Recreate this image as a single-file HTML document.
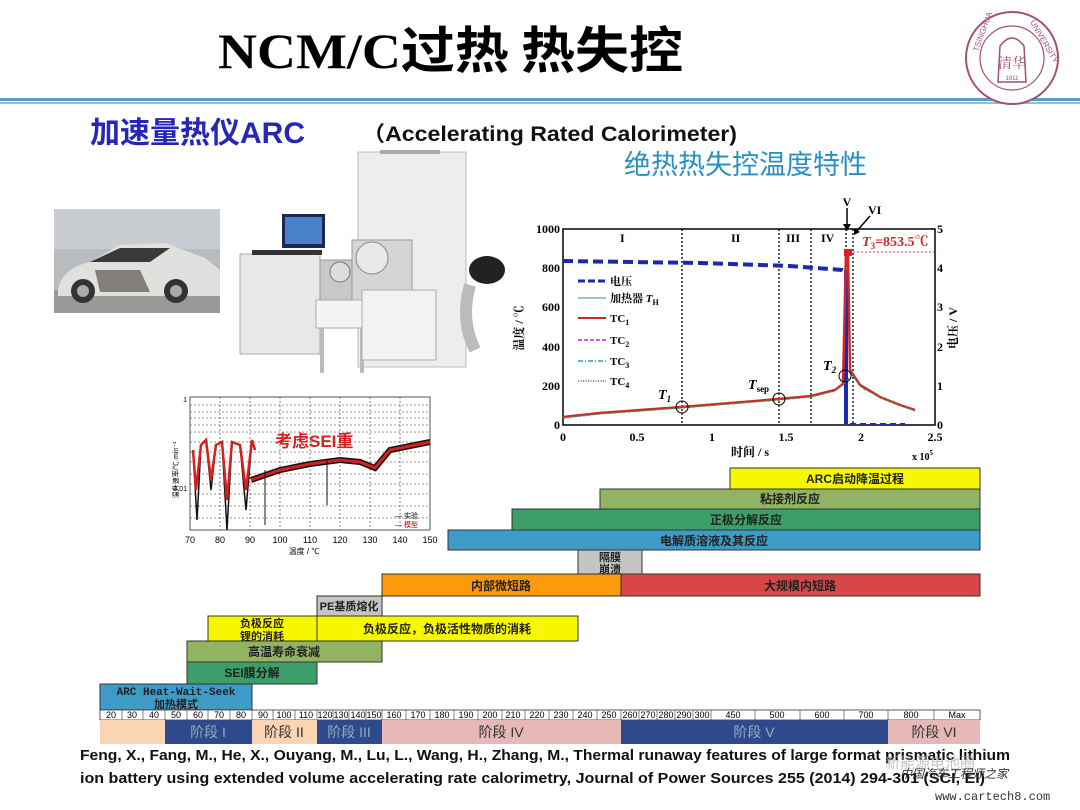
<!DOCTYPE html>
<html><head><meta charset="utf-8"><style>
html,body{margin:0;padding:0;background:#fff;}
svg{display:block;}
text{font-family:"Liberation Sans","Noto Sans CJK SC",sans-serif;}
.s,.s text{font-family:"Liberation Serif","Noto Serif CJK SC",serif;font-weight:bold;}
.bl{font-family:"Liberation Sans","Noto Sans CJK SC",sans-serif;font-weight:bold;font-size:12px;text-anchor:middle;}
.tk{font-size:9px;text-anchor:middle;font-family:"Liberation Sans",sans-serif;}
.st{font-size:14px;text-anchor:middle;font-family:"Liberation Sans","Noto Sans CJK SC",sans-serif;}
.cjk{font-family:"Noto Sans CJK SC",sans-serif;}
.serif{font-family:"Liberation Serif","Noto Serif CJK SC",serif;}
.mono{font-family:"Liberation Mono",monospace;}
</style></head><body>
<svg width="1080" height="810" viewBox="0 0 1080 810" xmlns="http://www.w3.org/2000/svg">
<rect width="1080" height="810" fill="#fff"/>
<text x="218" y="68" font-size="50" font-weight="bold" class="serif" textLength="465" lengthAdjust="spacingAndGlyphs">NCM/C<tspan class="cjk">过热 热失控</tspan></text>
<rect x="0" y="98" width="1080" height="3" fill="#5aa0c0"/>
<rect x="0" y="102" width="1080" height="2" fill="#8ec0d8"/>
<circle cx="1012" cy="58" r="46" fill="#fff" stroke="#a0507a" stroke-width="2"/>
<circle cx="1012" cy="58" r="32" fill="none" stroke="#a0507a" stroke-width="1.2"/>
<path d="M998 82 L1000 46 Q1012 30 1024 46 L1026 82 Z" fill="none" stroke="#a0507a" stroke-width="1.5"/>
<text x="1012" y="68" font-size="14" fill="#a0507a" text-anchor="middle" class="serif">清华</text>
<text x="1012" y="80" font-size="6" fill="#a0507a" text-anchor="middle">1911</text>
<text x="978" y="52" font-size="8" fill="#a0507a" transform="rotate(-70 978 52)">TSINGHUA</text>
<text x="1030" y="22" font-size="8" fill="#a0507a" transform="rotate(60 1030 22)">UNIVERSITY</text>
<text x="90" y="143" font-size="30" font-weight="bold" fill="#2626b8">加速量热仪ARC</text>
<text x="362" y="141" font-size="21" font-weight="bold" fill="#111" textLength="375" lengthAdjust="spacingAndGlyphs">（Accelerating Rated Calorimeter)</text>
<text x="624" y="174" font-size="27" fill="#2a8fc0" class="cjk">绝热热失控温度特性</text>
<rect x="54" y="209" width="166" height="104" fill="#b8bcbe"/>
<rect x="54" y="209" width="166" height="40" fill="#c9cdd2"/>
<rect x="54" y="290" width="166" height="23" fill="#9a9a98"/>
<path d="M58 290 Q62 268 90 262 L120 245 L165 243 L205 258 L220 270 L220 296 L58 296 Z" fill="#e0e0de"/>
<path d="M90 262 L120 248 L170 248 L150 262 Z" fill="#3a3a3a"/>
<path d="M95 270 L140 270 L150 292 L100 292 Z" fill="#5a5550" opacity=".7"/>
<circle cx="83" cy="291" r="12" fill="#333"/><circle cx="83" cy="291" r="6" fill="#aaa"/>
<circle cx="176" cy="291" r="12" fill="#333"/><circle cx="176" cy="291" r="6" fill="#aaa"/>
<rect x="358" y="152" width="108" height="215" fill="#eceeee" stroke="#bbb"/>
<rect x="380" y="150" width="60" height="4" fill="#aaa"/>
<rect x="240" y="254" width="80" height="100" fill="#e6e8e9" stroke="#aaa"/>
<rect x="282" y="214" width="43" height="34" fill="#1a2a50"/><rect x="285" y="217" width="37" height="27" fill="#4a80c8"/>
<rect x="252" y="250" width="70" height="5" fill="#333"/>
<rect x="320" y="260" width="50" height="50" fill="#c8c8c8" stroke="#999"/><circle cx="340" cy="272" r="10" fill="#ddd" stroke="#777"/>
<rect x="352" y="240" width="60" height="60" fill="#d5d5d5" stroke="#999"/><circle cx="372" cy="258" r="16" fill="#e8e8e8" stroke="#888"/>
<rect x="316" y="300" width="52" height="28" fill="#f4f4f4" stroke="#aaa"/>
<rect x="320" y="328" width="4" height="45" fill="#bbb"/><rect x="360" y="328" width="4" height="45" fill="#bbb"/>
<rect x="362" y="290" width="74" height="70" fill="#f2f2f2" stroke="#aaa"/>
<ellipse cx="487" cy="270" rx="18" ry="14" fill="#222"/>
<path d="M470 285 Q460 320 475 350" stroke="#bbb" stroke-width="12" fill="none"/>
<g>
<rect x="190" y="397" width="240" height="133" fill="#fff" stroke="#555"/>
<g stroke="#333" stroke-dasharray="2,2" stroke-width="0.6">
<line x1="220" y1="397" x2="220" y2="530"/><line x1="250" y1="397" x2="250" y2="530"/><line x1="280" y1="397" x2="280" y2="530"/><line x1="310" y1="397" x2="310" y2="530"/><line x1="340" y1="397" x2="340" y2="530"/><line x1="370" y1="397" x2="370" y2="530"/><line x1="400" y1="397" x2="400" y2="530"/>
<line x1="190" y1="405" x2="430" y2="405"/><line x1="190" y1="412" x2="430" y2="412"/><line x1="190" y1="418" x2="430" y2="418"/><line x1="190" y1="425" x2="430" y2="425"/><line x1="190" y1="432" x2="430" y2="432"/><line x1="190" y1="442" x2="430" y2="442"/><line x1="190" y1="452" x2="430" y2="452"/><line x1="190" y1="462" x2="430" y2="462"/><line x1="190" y1="474" x2="430" y2="474"/><line x1="190" y1="484" x2="430" y2="484"/><line x1="190" y1="494" x2="430" y2="494"/><line x1="190" y1="506" x2="430" y2="506"/><line x1="190" y1="518" x2="430" y2="518"/>
</g>
<path d="M251 480 L280 470 L310 464 L340 460 L360 462 L375 468 L390 450 L430 442" stroke="#111" stroke-width="6" fill="none"/>
<path d="M251 480 L280 470 L310 464 L340 460 L360 462 L375 468 L390 450 L430 442" stroke="#d42020" stroke-width="3" fill="none"/>
<path d="M193 450 L197 520 L201 445 L206 440 L211 490 L216 445 L222 442 L227 530 L232 442 L240 445 L246 510 L252 440 L255 450" stroke="#111" stroke-width="1.5" fill="none"/>
<path d="M193 450 L196 490 L201 445 L206 440 L211 480 L216 445 L222 442 L227 500 L232 442 L240 445 L246 490 L252 440 L255 450" stroke="#d42020" stroke-width="2.5" fill="none"/>
<line x1="265" y1="470" x2="265" y2="525" stroke="#111"/><line x1="327" y1="460" x2="327" y2="505" stroke="#111"/>
<text x="275" y="447" font-size="17" font-weight="bold" fill="#d42020">考虑SEI重</text>
<text x="395" y="518" font-size="7">— 实验</text><text x="395" y="527" font-size="7" fill="#a00">— 模型</text>
<text x="187" y="402" font-size="7" text-anchor="end">1</text><text x="187" y="491" font-size="7" text-anchor="end">0.01</text>
<g class="tk" font-size="8"><text x="190" y="543">70</text><text x="220" y="543">80</text><text x="250" y="543">90</text><text x="280" y="543">100</text><text x="310" y="543">110</text><text x="340" y="543">120</text><text x="370" y="543">130</text><text x="400" y="543">140</text><text x="430" y="543">150</text></g>
<text x="304" y="554" font-size="8" text-anchor="middle">温度 / ℃</text>
<text x="178" y="470" font-size="7" transform="rotate(-90 178 470)" text-anchor="middle">温升速率/℃·min⁻¹</text>
</g>
<g>
<rect x="563" y="229" width="372" height="196" fill="#fff" stroke="#000" stroke-width="1.5"/>
<g stroke="#000" stroke-dasharray="2,2" stroke-width="1.3">
<line x1="682" y1="229" x2="682" y2="425"/><line x1="779" y1="229" x2="779" y2="425"/><line x1="811" y1="229" x2="811" y2="425"/><line x1="846" y1="229" x2="846" y2="425"/><line x1="853" y1="229" x2="853" y2="425"/>
</g>
<g class="s" font-size="12"><text x="620" y="242">I</text><text x="731" y="242">II</text><text x="786" y="242">III</text><text x="821" y="242">IV</text></g>
<path d="M563 261 L700 263 L790 266 L842 270 L845 272" stroke="#1a2aa8" stroke-width="4" stroke-dasharray="10,5" fill="none"/>
<line x1="846" y1="270" x2="846" y2="424" stroke="#1a2aa8" stroke-width="4"/>
<path d="M850 424 L905 424" stroke="#1a2aa8" stroke-width="2" stroke-dasharray="6,4"/>
<path d="M563 417 L600 413 L682 407 L779 399 L811 396 L835 390 L843 384 L846 252 L848 252 L850 370 L860 385 L880 397 L900 405 L915 410" stroke="#d02828" stroke-width="2.5" fill="none"/>
<path d="M563 418 L600 414 L682 408 L779 400 L811 397 L835 391 L843 385 L852 375 L862 388 L882 398 L902 406 L915 411" stroke="#3a9a50" stroke-width="1.2" fill="none" stroke-dasharray="3,2"/>
<rect x="844" y="249" width="8" height="7" fill="#e02020"/>
<line x1="853" y1="252" x2="935" y2="252" stroke="#e04040" stroke-dasharray="2,2"/>
<circle cx="682" cy="407" r="6" fill="none" stroke="#000"/><circle cx="779" cy="399" r="6" fill="none" stroke="#000"/><circle cx="845" cy="376" r="6" fill="none" stroke="#000"/>
<text x="658" y="399" class="s" font-size="14" font-style="italic">T<tspan font-size="9" dy="3">1</tspan></text>
<text x="748" y="389" class="s" font-size="14" font-style="italic">T<tspan font-size="9" dy="3" font-style="normal">sep</tspan></text>
<text x="823" y="370" class="s" font-size="14" font-style="italic">T<tspan font-size="9" dy="3">2</tspan></text>
<text x="862" y="246" class="s" font-size="14" fill="#d02828"><tspan font-style="italic">T</tspan><tspan font-size="9" dy="3">3</tspan><tspan dy="-3">=853.5℃</tspan></text>
<text x="847" y="206" class="s" font-size="12" text-anchor="middle">V</text>
<line x1="847" y1="208" x2="847" y2="228" stroke="#000" stroke-width="1.5"/><path d="M843 224 L847 231 L851 224 Z"/>
<text x="868" y="214" class="s" font-size="12">VI</text>
<line x1="870" y1="216" x2="856" y2="232" stroke="#000" stroke-width="1.5"/><path d="M854 228 L854 235 L860 232 Z"/>
<g class="s" font-size="11">
<line x1="578" y1="281" x2="606" y2="281" stroke="#1a2aa8" stroke-width="3" stroke-dasharray="7,3"/><text x="610" y="285" font-weight="normal">电压</text>
<line x1="578" y1="298" x2="606" y2="298" stroke="#3a9a50" stroke-width="1"/><text x="610" y="302" font-weight="normal">加热器 <tspan font-style="italic">T</tspan><tspan font-size="8" dy="3">H</tspan></text>
<line x1="578" y1="318" x2="606" y2="318" stroke="#d02828" stroke-width="2"/><text x="610" y="322">TC<tspan font-size="8" dy="3">1</tspan></text>
<line x1="578" y1="340" x2="606" y2="340" stroke="#b030c0" stroke-width="1.5" stroke-dasharray="4,2"/><text x="610" y="344">TC<tspan font-size="8" dy="3">2</tspan></text>
<line x1="578" y1="361" x2="606" y2="361" stroke="#20a0b0" stroke-width="1.5" stroke-dasharray="5,2,1,2"/><text x="610" y="365">TC<tspan font-size="8" dy="3">3</tspan></text>
<line x1="578" y1="381" x2="606" y2="381" stroke="#8a5030" stroke-width="1.5" stroke-dasharray="1,1.5"/><text x="610" y="385">TC<tspan font-size="8" dy="3">4</tspan></text>
</g>
<g class="s" font-size="12" text-anchor="end"><text x="560" y="233">1000</text><text x="560" y="272">800</text><text x="560" y="311">600</text><text x="560" y="351">400</text><text x="560" y="390">200</text><text x="560" y="429">0</text></g>
<g class="s" font-size="12"><text x="937" y="233">5</text><text x="937" y="272">4</text><text x="937" y="311">3</text><text x="937" y="351">2</text><text x="937" y="390">1</text><text x="937" y="429">0</text></g>
<g class="s" font-size="12" text-anchor="middle"><text x="563" y="441">0</text><text x="637" y="441">0.5</text><text x="712" y="441">1</text><text x="786" y="441">1.5</text><text x="861" y="441">2</text><text x="935" y="441">2.5</text></g>
<text x="750" y="456" class="s" font-size="12" text-anchor="middle">时间 / s</text>
<text x="912" y="460" class="s" font-size="10">x 10<tspan font-size="7" dy="-5">5</tspan></text>
<text x="523" y="328" class="s" font-size="12" transform="rotate(-90 523 328)" text-anchor="middle">温度 / ℃</text>
<text x="957" y="328" class="s" font-size="12" transform="rotate(-90 957 328)" text-anchor="middle">电压 / V</text>
</g>
<g stroke="#333" stroke-width="1">
<rect x="730" y="468" width="250" height="21" fill="#f7f700"/>
<rect x="600" y="489" width="380" height="20" fill="#92b462"/>
<rect x="512" y="509" width="468" height="21" fill="#3c9e68"/>
<rect x="448" y="530" width="532" height="20" fill="#3e9ac6"/>
<rect x="578" y="550" width="64" height="24" fill="#c4c4c4"/>
<rect x="382" y="574" width="239" height="22" fill="#fc9a0c"/>
<rect x="621" y="574" width="359" height="22" fill="#d9464a"/>
<rect x="317" y="596" width="65" height="20" fill="#c4c4c4"/>
<rect x="208" y="616" width="109" height="25" fill="#f7f700"/>
<rect x="317" y="616" width="261" height="25" fill="#f7f700"/>
<rect x="187" y="641" width="195" height="21" fill="#92b462"/>
<rect x="187" y="662" width="130" height="22" fill="#3c9e68"/>
<rect x="100" y="684" width="152" height="26" fill="#3e9ac6"/>
</g>
<g class="bl" fill="#222">
<text x="855" y="483">ARC启动降温过程</text>
<text x="790" y="503">粘接剂反应</text>
<text x="746" y="524">正极分解反应</text>
<text x="714" y="545">电解质溶液及其反应</text>
<text x="610" y="561" font-size="11">隔膜</text><text x="610" y="573" font-size="11">崩溃</text>
<text x="501" y="590">内部微短路</text>
<text x="800" y="590">大规模内短路</text>
<text x="349" y="610" font-size="11">PE基质熔化</text>
<text x="262" y="627" font-size="11">负极反应</text><text x="262" y="640" font-size="11">锂的消耗</text>
<text x="447" y="633">负极反应，负极活性物质的消耗</text>
<text x="284" y="656">高温寿命衰减</text>
<text x="252" y="677">SEI膜分解</text>
<text x="176" y="695" font-size="11" style="font-family:'Liberation Mono',monospace">ARC Heat-Wait-Seek</text><text x="176" y="708" font-size="11">加热模式</text>
</g>
<rect x="100" y="710" width="880" height="10" fill="#fff" stroke="#333" stroke-width="0.8"/>
<g class="tk" font-size="8">
<text x="111" y="718">20</text><text x="132" y="718">30</text><text x="154" y="718">40</text><text x="176" y="718">50</text><text x="198" y="718">60</text><text x="219" y="718">70</text><text x="241" y="718">80</text>
<text x="263" y="718">90</text><text x="284" y="718">100</text><text x="306" y="718">110</text>
<text x="325" y="718">120</text><text x="341" y="718">130</text><text x="358" y="718">140</text><text x="374" y="718">150</text>
<text x="394" y="718">160</text><text x="418" y="718">170</text><text x="442" y="718">180</text><text x="466" y="718">190</text><text x="490" y="718">200</text><text x="513" y="718">210</text><text x="537" y="718">220</text><text x="561" y="718">230</text><text x="585" y="718">240</text><text x="609" y="718">250</text>
<text x="630" y="718">260</text><text x="648" y="718">270</text><text x="666" y="718">280</text><text x="684" y="718">290</text><text x="702" y="718">300</text>
<text x="733" y="718">450</text><text x="777" y="718">500</text><text x="822" y="718">600</text><text x="866" y="718">700</text>
<text x="911" y="718">800</text><text x="957" y="718">Max</text>
</g>
<g stroke="#333" stroke-width="0.6">
<path d="M122 710v10M143 710v10M165 710v10M187 710v10M208 710v10M230 710v10M252 710v10M273 710v10M295 710v10M317 710v10M333 710v10M349 710v10M366 710v10M382 710v10M406 710v10M430 710v10M454 710v10M478 710v10M502 710v10M525 710v10M549 710v10M573 710v10M597 710v10M621 710v10M639 710v10M657 710v10M675 710v10M693 710v10M711 710v10M755 710v10M800 710v10M844 710v10M888 710v10M934 710v10"/>
</g>
<rect x="100" y="720" width="65" height="24" fill="#fbd4b4"/>
<rect x="165" y="720" width="87" height="24" fill="#2e4a8c"/>
<rect x="252" y="720" width="65" height="24" fill="#fbd4b4"/>
<rect x="317" y="720" width="65" height="24" fill="#2e4a8c"/>
<rect x="382" y="720" width="239" height="24" fill="#e6b8b7"/>
<rect x="621" y="720" width="267" height="24" fill="#2e4a8c"/>
<rect x="888" y="720" width="92" height="24" fill="#e6b8b7"/>
<g class="st"><text x="208" y="737" fill="#9ab">阶段 I</text><text x="284" y="737" fill="#333">阶段 II</text><text x="349" y="737" fill="#9ab">阶段 III</text><text x="501" y="737" fill="#333">阶段 IV</text><text x="754" y="737" fill="#9ab">阶段 V</text><text x="934" y="737" fill="#333">阶段 VI</text></g>
<text x="80" y="760" font-size="14.5" font-weight="bold" fill="#111" textLength="930" lengthAdjust="spacingAndGlyphs">Feng, X., Fang, M., He, X., Ouyang, M., Lu, L., Wang, H., Zhang, M., Thermal runaway features of large format prismatic lithium</text>
<text x="80" y="783" font-size="14.5" font-weight="bold" fill="#111" textLength="905" lengthAdjust="spacingAndGlyphs">ion battery using extended volume accelerating rate calorimetry, Journal of Power Sources 255 (2014) 294-301 (SCI, EI)</text>
<text x="885" y="768" font-size="15" fill="#aaa" opacity=".7">新能源电池圈</text>
<text x="900" y="778" font-size="12" fill="#333" font-style="italic">中国汽车工程师之家</text>
<text x="935" y="800" font-size="12" fill="#333" class="mono">www.cartech8.com</text>
</svg>
</body></html>
